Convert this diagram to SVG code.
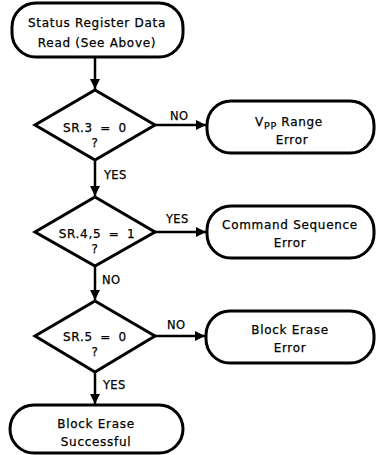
<svg xmlns="http://www.w3.org/2000/svg" width="379" height="455" viewBox="0 0 379 455">
<style>
.n{fill:#fff;stroke:#000;stroke-width:3}
.c{fill:none;stroke:#000;stroke-width:2.5}
text{font-family:"DejaVu Sans","Liberation Sans",sans-serif;font-size:12px;fill:#000;stroke:#000;stroke-width:0.25;text-anchor:middle;letter-spacing:0.7px}
.l{text-anchor:start;font-size:11.5px;letter-spacing:0.3px}
.q{word-spacing:3px}
</style>
<defs>
<marker id="a" viewBox="0 0 10 10" refX="10" refY="5" markerWidth="10" markerHeight="10" markerUnits="userSpaceOnUse" orient="auto">
<path d="M0,0 L10,5 L0,10 z" fill="#000"/>
</marker>
</defs>
<g id="connectors">
<line class="c" x1="95" y1="58" x2="95" y2="89" marker-end="url(#a)"/>
<line class="c" x1="155" y1="125" x2="206" y2="125" marker-end="url(#a)"/>
<line class="c" x1="95" y1="160" x2="95" y2="196" marker-end="url(#a)"/>
<line class="c" x1="155" y1="232" x2="206" y2="232" marker-end="url(#a)"/>
<line class="c" x1="95" y1="266" x2="95" y2="300" marker-end="url(#a)"/>
<line class="c" x1="155" y1="336" x2="205" y2="336" marker-end="url(#a)"/>
<line class="c" x1="95" y1="372" x2="95" y2="404" marker-end="url(#a)"/>
<text class="l" x="170" y="120">NO</text>
<text class="l" x="104" y="179">YES</text>
<text class="l" x="166" y="223">YES</text>
<text class="l" x="102" y="284">NO</text>
<text class="l" x="167" y="329">NO</text>
<text class="l" x="103" y="389">YES</text>
</g>
<g id="start">
<rect class="n" x="12" y="3" width="171" height="54" rx="24"/>
<text x="97" y="27">Status Register Data</text>
<text x="97" y="47">Read (See Above)</text>
</g>
<g id="d1">
<polygon class="n" points="95,90 155,125 95,160 35,125"/>
<text class="q" x="95" y="132">SR.3 = 0</text>
<text x="95" y="147">?</text>
</g>
<g id="e1">
<rect class="n" x="207" y="101" width="167" height="52" rx="24"/>
<text x="289" y="126">V<tspan font-size="9.5" dy="3">PP</tspan><tspan dy="-3"> Range</tspan></text>
<text x="292" y="144">Error</text>
</g>
<g id="d2">
<polygon class="n" points="95,197 155,232 95,266 35,232"/>
<text class="q" x="97" y="238">SR.4,5 = 1</text>
<text x="95" y="253">?</text>
</g>
<g id="e2">
<rect class="n" x="207" y="206" width="167" height="52" rx="24"/>
<text x="290" y="229">Command Sequence</text>
<text x="290" y="247">Error</text>
</g>
<g id="d3">
<polygon class="n" points="95,301 155,336 95,372 35,336"/>
<text class="q" x="95" y="341">SR.5 = 0</text>
<text x="95" y="356">?</text>
</g>
<g id="e3">
<rect class="n" x="206" y="311" width="168" height="52" rx="24"/>
<text x="290" y="334">Block Erase</text>
<text x="290" y="352">Error</text>
</g>
<g id="end">
<rect class="n" x="10" y="405" width="173" height="48" rx="24"/>
<text x="96" y="428">Block Erase</text>
<text x="96" y="446">Successful</text>
</g>
</svg>
